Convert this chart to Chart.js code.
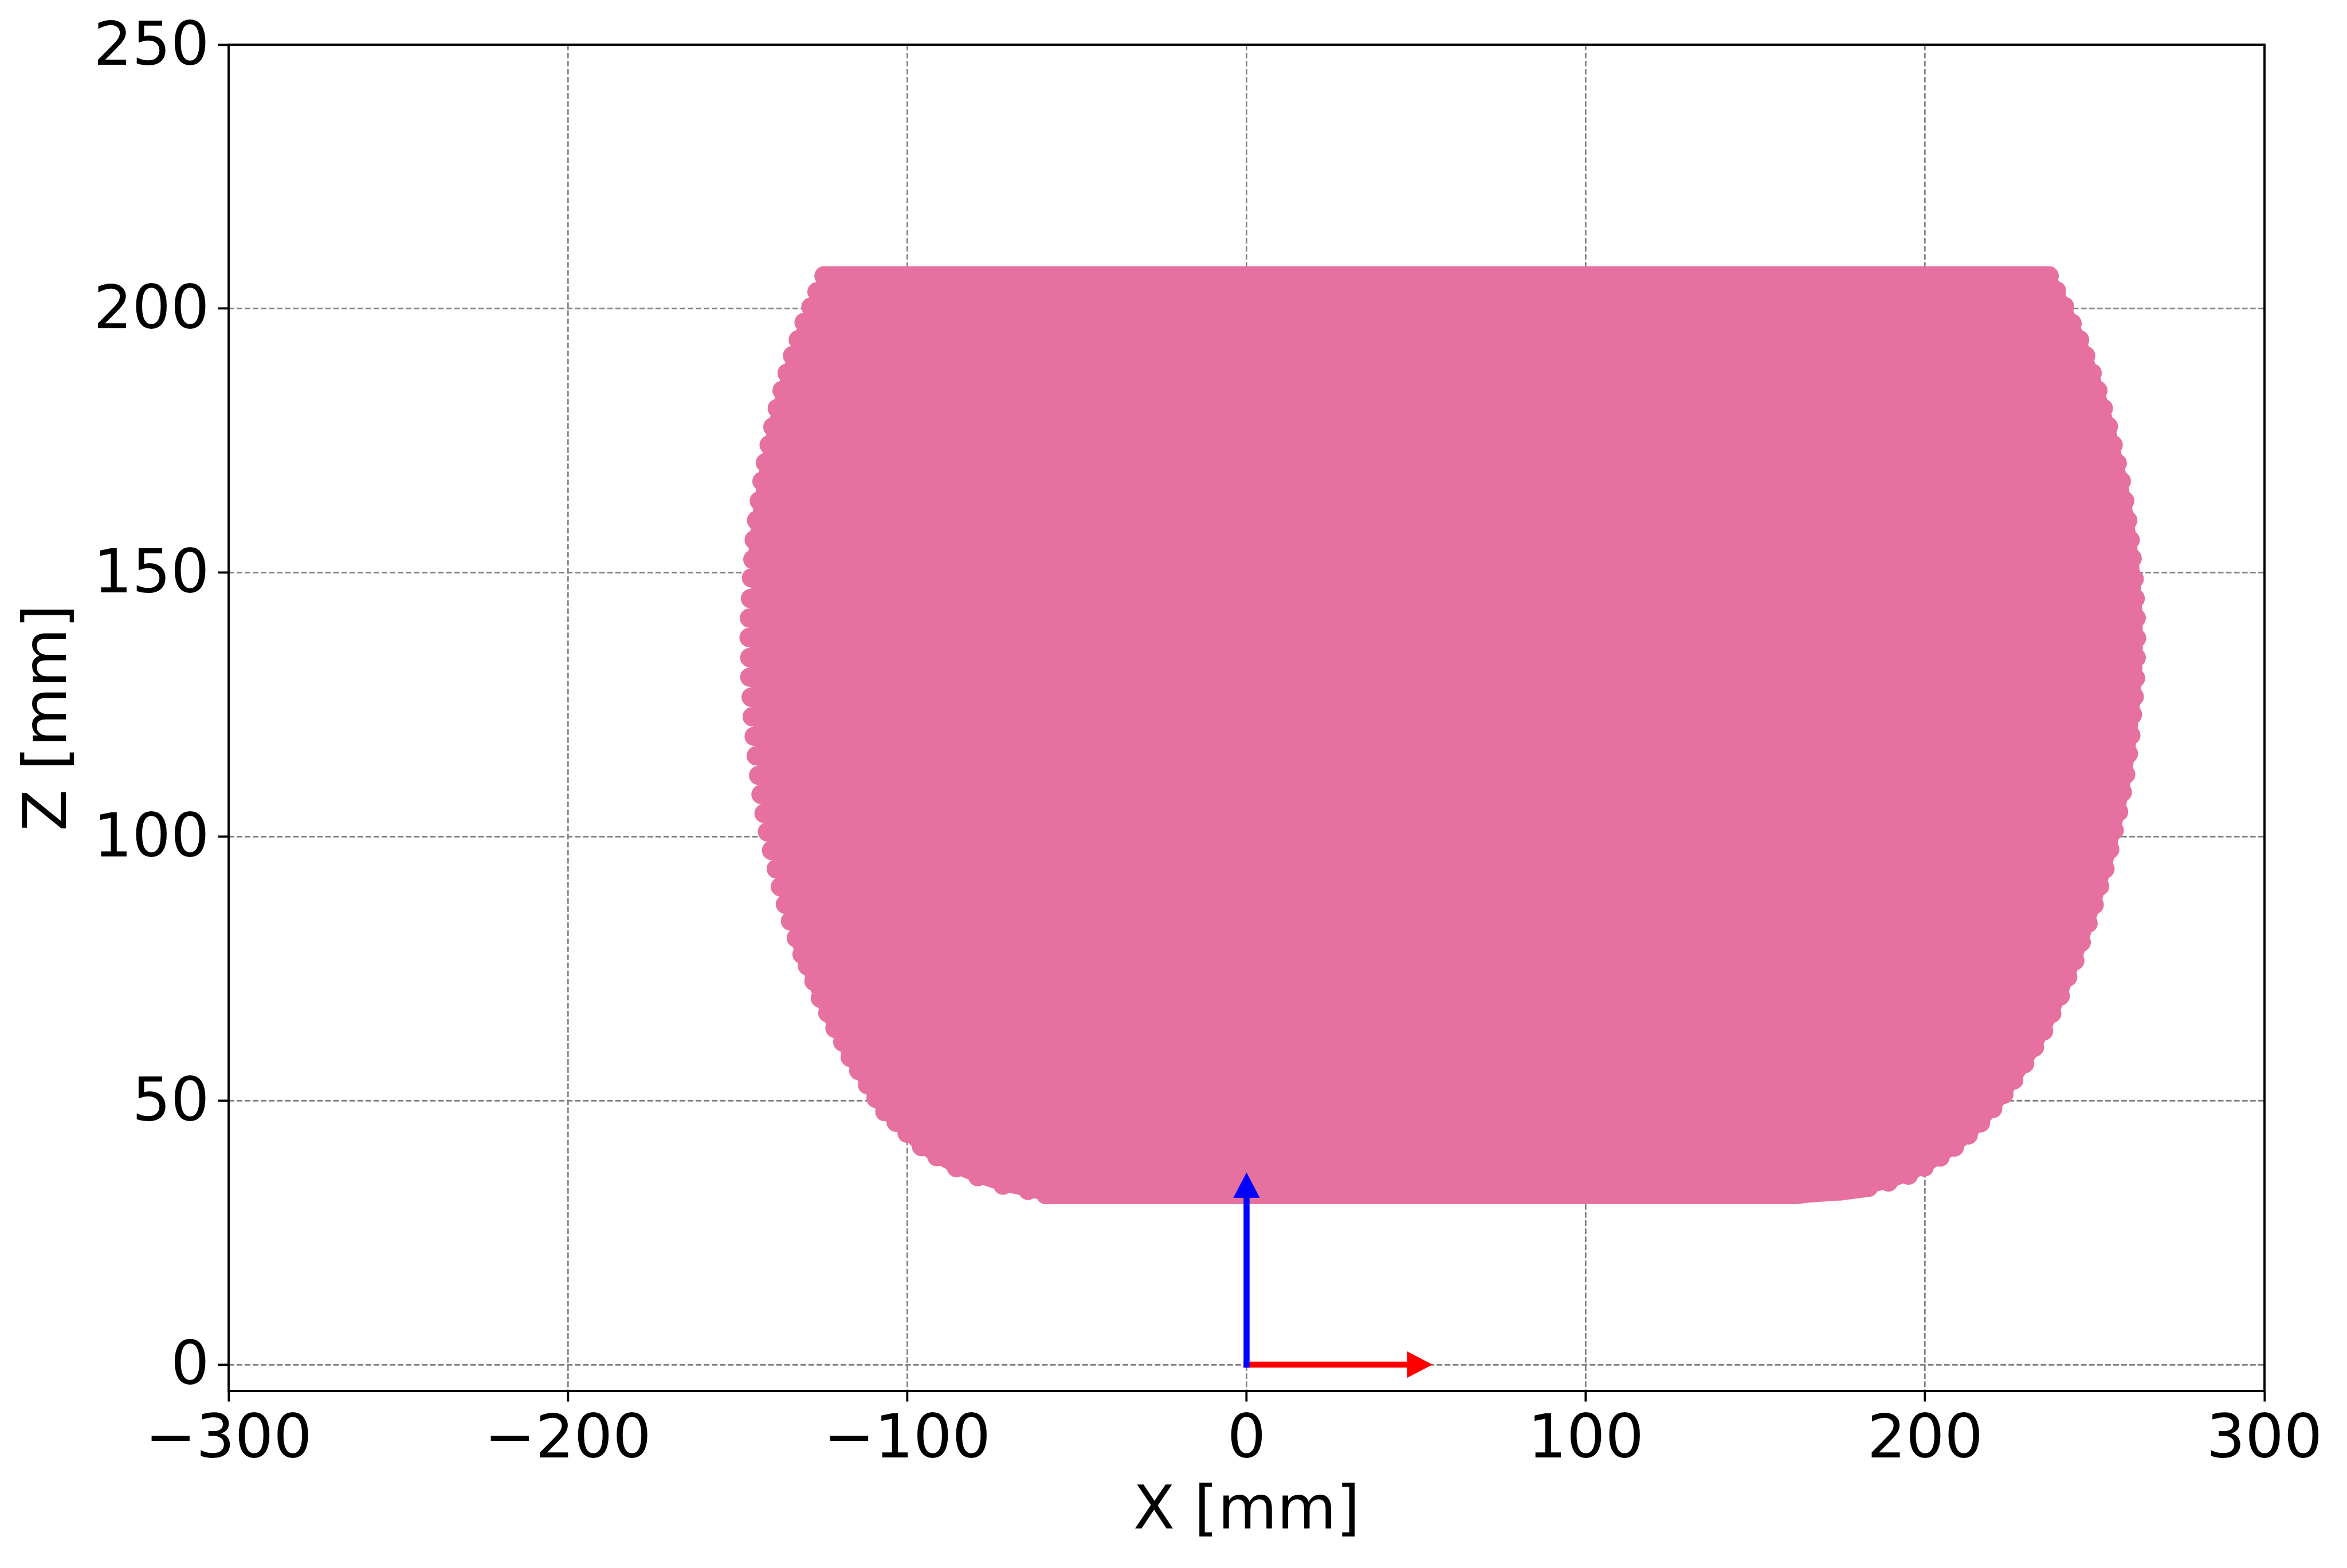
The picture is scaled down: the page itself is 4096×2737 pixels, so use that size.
<!DOCTYPE html>
<html>
<head>
<meta charset="utf-8">
<script src="https://cdn.jsdelivr.net/npm/chart.js@4.4.1/dist/chart.umd.min.js"></script>
<style>
  html, body { margin: 0; padding: 0; background: #ffffff; }
  #wrap { width: 4096px; height: 2737px; }
</style>
</head>
<body>
<div id="wrap"><canvas id="c" width="4096" height="2737"></canvas></div>
<script>
// ---------------- data ----------------
const xTickValues = [-300, -200, -100, 0, 100, 200, 300];
const xTickLabels = ['\u2212300', '\u2212200', '\u2212100', '0', '100', '200', '300'];
const zTickValues = [0, 50, 100, 150, 200, 250];
const zTickLabels = ['0', '50', '100', '150', '200', '250'];

// left boundary of the workspace (marker centres), bottom -> top
const leftEdgeX = [-59.1, -64.4, -71.8, -79.2, -85.5, -91.3, -95.8, -100.0, -103.3, -106.6,
  -109.2, -111.7, -114.3, -116.8, -119.0, -121.3, -123.4, -125.6, -127.5, -129.4,
  -131.0, -132.7, -134.4, -135.9, -137.4, -138.6, -140.0, -141.2, -142.2, -143.1,
  -143.8, -144.5, -145.1, -145.7, -146.0, -146.4, -146.4, -146.6, -146.5, -146.2,
  -145.9, -145.5, -145.1, -144.4, -143.6, -142.8, -141.8, -140.7, -139.6, -138.3,
  -136.9, -135.4, -133.8, -132.1, -130.4, -128.4, -126.6, -124.5];
const leftEdgeZ = [32.2, 33.0, 34.0, 35.6, 37.3, 39.4, 41.3, 43.8, 45.9, 47.9,
  50.4, 53.0, 55.7, 58.2, 61.1, 63.7, 66.6, 69.4, 72.6, 75.5,
  77.7, 80.8, 84.0, 87.2, 90.5, 93.9, 97.4, 100.9, 104.4, 108.0,
  111.6, 115.3, 119.0, 122.7, 126.4, 130.2, 133.9, 137.7, 141.4, 145.1,
  149.0, 152.5, 156.2, 159.9, 163.6, 167.3, 170.8, 174.2, 177.6, 181.1,
  184.5, 187.8, 191.1, 194.1, 197.4, 200.3, 203.2, 206.2];

// right boundary of the workspace (marker centres), top -> bottom
const rightEdgeX = [236.5, 238.7, 241.1, 243.3, 245.5, 247.3, 249.2, 250.9, 252.5, 254.0,
  255.4, 256.6, 257.8, 258.8, 259.7, 260.4, 261.0, 261.6, 261.9, 262.2,
  262.3, 262.2, 262.0, 261.6, 261.1, 260.6, 259.9, 259.1, 258.1, 257.0,
  255.7, 254.4, 253.0, 251.4, 249.8, 248.0, 246.0, 244.1, 242.0, 239.8,
  237.3, 234.9, 232.2, 229.3, 226.1, 223.2, 219.9, 216.3, 212.7, 208.6,
  204.4, 199.7, 195.1, 189.2, 183.3, 174.9, 165.3, 161.6];
const rightEdgeZ = [206.2, 203.4, 200.4, 197.2, 194.1, 191.1, 187.8, 184.5, 181.1, 177.7,
  174.2, 170.7, 167.3, 163.6, 159.9, 156.2, 152.7, 148.8, 145.1, 141.4,
  137.6, 133.9, 130.0, 126.5, 123.1, 119.2, 115.7, 111.8, 108.4, 104.7,
  101.2, 97.6, 93.9, 90.6, 87.1, 83.6, 80.0, 76.5, 73.4, 69.8,
  66.5, 63.2, 60.1, 57.0, 53.9, 51.2, 48.5, 45.8, 43.5, 41.2,
  39.3, 37.4, 35.9, 34.6, 33.6, 32.9, 32.5, 32.2];

// coordinate-frame arrows (red = X, blue = Z)
const arrowStartX = [0, 0];
const arrowStartZ = [0, 0];
const arrowEndX = [54.8, 0];
const arrowEndZ = [0, 36.4];
const arrowColors = ['#ff0000', '#0000ff'];

// ---------------- build the tables Chart.js needs ----------------
const outline = [];
for (let i = 0; i < leftEdgeX.length; i++) outline.push({x: leftEdgeX[i], y: leftEdgeZ[i]});
for (let i = 0; i < rightEdgeX.length; i++) outline.push({x: rightEdgeX[i], y: rightEdgeZ[i]});
outline.push({x: leftEdgeX[0], y: leftEdgeZ[0]});
const nLeft = leftEdgeX.length;

const PINK = '#e6709f';
const S = 0.636;
const MARKER_R = 26.5 * S;

function segWidth(ctx) {
  const dx = Math.abs(ctx.p1.x - ctx.p0.x), dy = Math.abs(ctx.p1.y - ctx.p0.y);
  if (dy < 0.15 * dx) return 2 * MARKER_R;
  const i0 = ctx.p0DataIndex, i1 = ctx.p1DataIndex;
  if (i0 < nLeft && i1 < nLeft && outline[i0].y >= 150) return 17;
  return 22;
}
function segColor(ctx) {
  const dx = Math.abs(ctx.p1.x - ctx.p0.x), dy = Math.abs(ctx.p1.y - ctx.p0.y);
  if (dy < 0.15 * dx) return PINK;
  const i0 = ctx.p0DataIndex, i1 = ctx.p1DataIndex;
  if (i0 < nLeft && i1 < nLeft && outline[i0].y > 78 && outline[i1].y > 78 && outline[i0].y < 150) return 'rgba(0,0,0,0)';
  return PINK;
}

const arrowPlugin = {
  id: 'frameArrows',
  afterDatasetsDraw(chart) {
    const {ctx} = chart;
    const xs = chart.scales.x, ys = chart.scales.y;
    const shaftW = 16.5 * S, headHalf = 36.5 * S, headLen = 70 * S;
    for (let i = 0; i < arrowColors.length; i++) {
      const x0 = xs.getPixelForValue(arrowStartX[i]), y0 = ys.getPixelForValue(arrowStartZ[i]);
      const x1 = xs.getPixelForValue(arrowEndX[i]), y1 = ys.getPixelForValue(arrowEndZ[i]);
      const dx = x1 - x0, dy = y1 - y0, L = Math.hypot(dx, dy);
      const ux = dx / L, uy = dy / L, px = -uy, py = ux;
      const bx = x1 - ux * headLen, by = y1 - uy * headLen;
      const tx = x0 - ux * shaftW / 2, ty = y0 - uy * shaftW / 2;
      ctx.save();
      ctx.fillStyle = arrowColors[i];
      ctx.beginPath();
      ctx.moveTo(tx + px * shaftW / 2, ty + py * shaftW / 2);
      ctx.lineTo(bx + px * shaftW / 2, by + py * shaftW / 2);
      ctx.lineTo(bx + px * headHalf, by + py * headHalf);
      ctx.lineTo(x1, y1);
      ctx.lineTo(bx - px * headHalf, by - py * headHalf);
      ctx.lineTo(bx - px * shaftW / 2, by - py * shaftW / 2);
      ctx.lineTo(tx - px * shaftW / 2, ty - py * shaftW / 2);
      ctx.closePath();
      ctx.fill();
      ctx.restore();
    }
  }
};

const spinePlugin = {
  id: 'spines',
  afterDraw(chart) {
    const {ctx, chartArea: a} = chart;
    ctx.save();
    ctx.strokeStyle = '#000000';
    ctx.lineWidth = 6 * S;
    ctx.lineJoin = 'miter';
    ctx.strokeRect(a.left, a.top, a.right - a.left, a.bottom - a.top);
    ctx.restore();
  }
};

Chart.defaults.font.family = "'DejaVu Sans', sans-serif";
Chart.defaults.color = '#000000';

const FS = 106;

new Chart(document.getElementById('c'), {
  type: 'scatter',
  data: {
    datasets: [
      {
        label: 'workspace fill',
        data: outline,
        showLine: true,
        fill: 'shape',
        backgroundColor: PINK,
        borderWidth: 0,
        borderColor: 'rgba(0,0,0,0)',
        pointRadius: 0,
        tension: 0
      },
      {
        label: 'workspace edge',
        data: outline,
        showLine: true,
        fill: false,
        borderColor: PINK,
        borderWidth: 22,
        borderJoinStyle: 'round',
        borderCapStyle: 'round',
        segment: { borderWidth: segWidth, borderColor: segColor },
        pointRadius: MARKER_R,
        pointBackgroundColor: PINK,
        pointBorderWidth: 0,
        pointStyle: 'circle',
        tension: 0
      }
    ]
  },
  options: {
    responsive: false,
    devicePixelRatio: 1,
    animation: false,
    events: [],
    layout: { padding: { top: 78, right: 144, left: 0, bottom: 0 } },
    plugins: {
      legend: { display: false },
      tooltip: { enabled: false },
      title: { display: false }
    },
    scales: {
      x: {
        type: 'linear',
        position: 'bottom',
        min: -300,
        max: 300,
        afterBuildTicks: (scale) => { scale.ticks = xTickValues.map(v => ({value: v})); },
        afterFit: (scale) => { scale.height = 309; },
        ticks: {
          autoSkip: false,
          maxRotation: 0,
          font: { size: FS, lineHeight: 1.0 },
          color: '#000000',
          padding: 17,
          callback: (v) => { const k = xTickValues.indexOf(v); return k >= 0 ? xTickLabels[k] : ''; }
        },
        grid: {
          color: '#808080',
          lineWidth: 4.2 * S,
          drawTicks: true,
          tickLength: 18.5,
          tickWidth: 6 * S,
          tickColor: '#000000'
        },
        border: { display: false, dash: [15.4 * S, 6.7 * S] },
        title: {
          display: true,
          text: 'X [mm]',
          font: { size: FS, lineHeight: 1.2 },
          color: '#000000',
          padding: { top: 0, bottom: 33 }
        }
      },
      y: {
        type: 'linear',
        position: 'left',
        min: -5,
        max: 250,
        afterBuildTicks: (scale) => { scale.ticks = zTickValues.map(v => ({value: v})); },
        afterFit: (scale) => { scale.width = 399; },
        ticks: {
          autoSkip: false,
          font: { size: FS, lineHeight: 1.0 },
          color: '#000000',
          padding: 15,
          labelOffset: 7,
          callback: (v) => { const k = zTickValues.indexOf(v); return k >= 0 ? zTickLabels[k] : ''; }
        },
        grid: {
          color: '#808080',
          lineWidth: 4.2 * S,
          drawTicks: true,
          tickLength: 18.5,
          tickWidth: 6 * S,
          tickColor: '#000000'
        },
        border: { display: false, dash: [15.4 * S, 6.7 * S] },
        title: {
          display: true,
          text: 'Z [mm]',
          font: { size: FS, lineHeight: 1.2 },
          color: '#000000',
          padding: { top: 24, bottom: 0 }
        }
      }
    }
  },
  plugins: [arrowPlugin, spinePlugin]
});
</script>
</body>
</html>
